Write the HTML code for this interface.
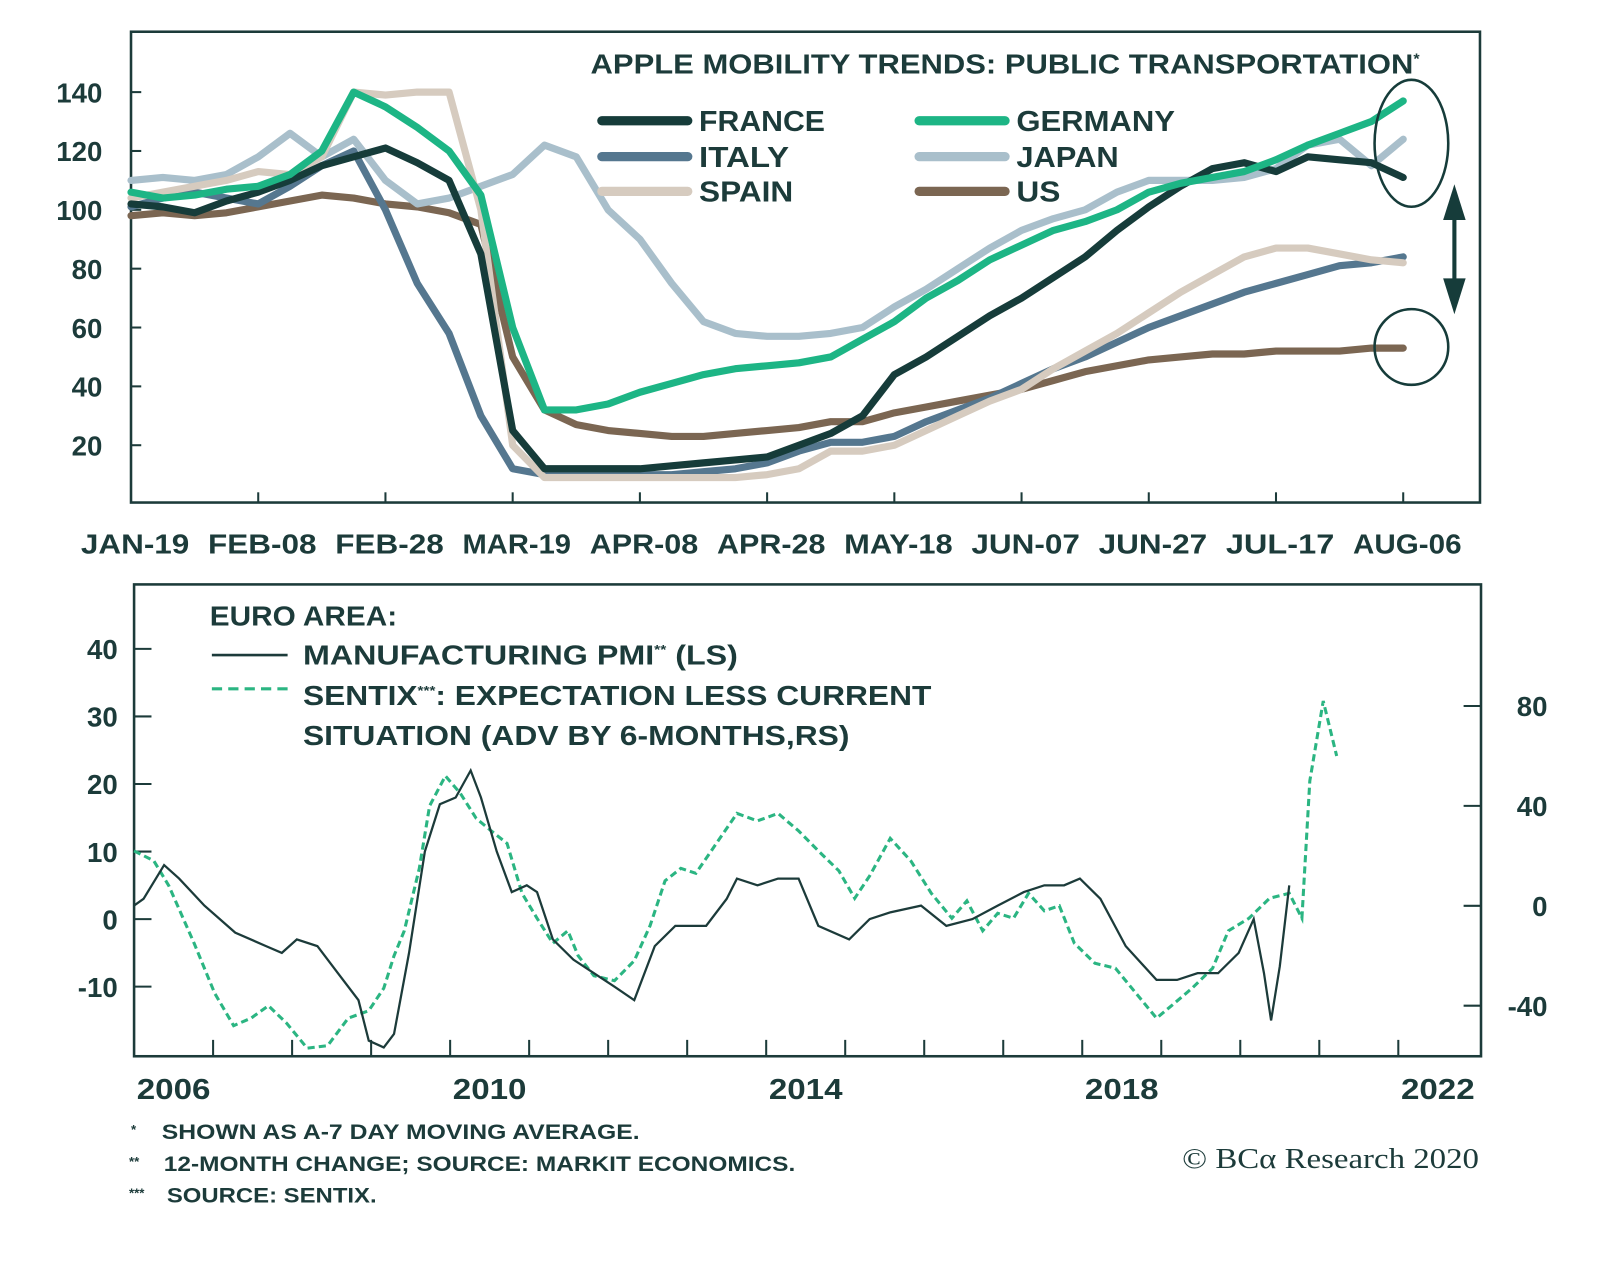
<!DOCTYPE html>
<html><head><meta charset="utf-8"><style>
html,body{margin:0;padding:0;background:#fff;}
svg{display:block;font-family:"Liberation Sans",sans-serif;font-weight:bold;}
</style></head><body>
<svg id="c" width="1600" height="1274" viewBox="0 0 1600 1274">
<g transform="scale(1.0235)">
<g id="top">
 <rect x="128" y="31" width="1318" height="460" fill="none" stroke="#1c3b3a" stroke-width="2.5"/>
 <text x="577" y="72" font-size="27" fill="#1c3b3a" textLength="810" lengthAdjust="spacingAndGlyphs">APPLE MOBILITY TRENDS: PUBLIC TRANSPORTATION<tspan font-size="14" dy="-10">*</tspan></text>
 <g id="topAxes"></g>
 <g id="topLines"></g>
 <g font-size="28" fill="#1c3b3a">
  <g><line x1="588" y1="118" x2="672" y2="118" stroke="#163c3a" stroke-width="9" stroke-linecap="round"/><text x="683" y="128" textLength="123" lengthAdjust="spacingAndGlyphs">FRANCE</text></g>
  <g><line x1="588" y1="153" x2="672" y2="153" stroke="#55778f" stroke-width="9" stroke-linecap="round"/><text x="683" y="163" textLength="88" lengthAdjust="spacingAndGlyphs">ITALY</text></g>
  <g><line x1="588" y1="187" x2="672" y2="187" stroke="#d6cbbf" stroke-width="9" stroke-linecap="round"/><text x="683" y="197" textLength="92" lengthAdjust="spacingAndGlyphs">SPAIN</text></g>
  <g><line x1="898" y1="118" x2="982" y2="118" stroke="#1db585" stroke-width="9" stroke-linecap="round"/><text x="993" y="128" textLength="155" lengthAdjust="spacingAndGlyphs">GERMANY</text></g>
  <g><line x1="898" y1="153" x2="982" y2="153" stroke="#a9bfcb" stroke-width="9" stroke-linecap="round"/><text x="993" y="163" textLength="100" lengthAdjust="spacingAndGlyphs">JAPAN</text></g>
  <g><line x1="898" y1="187" x2="982" y2="187" stroke="#7b6652" stroke-width="9" stroke-linecap="round"/><text x="993" y="197" textLength="43" lengthAdjust="spacingAndGlyphs">US</text></g>
 </g>
 <ellipse cx="1379" cy="140" rx="36" ry="62" fill="none" stroke="#163c3a" stroke-width="2.5"/>
 <ellipse cx="1379" cy="339" rx="36" ry="37" fill="none" stroke="#163c3a" stroke-width="2.5"/>
 <g>
  <line x1="1421" y1="195" x2="1421" y2="292" stroke="#163c3a" stroke-width="4"/>
  <polygon points="1421,180 1410,215 1432,215" fill="#163c3a"/>
  <polygon points="1421,307 1410,272 1432,272" fill="#163c3a"/>
 </g>
</g>
<g id="bot">
 <rect x="131" y="571" width="1316" height="461" fill="none" stroke="#1c3b3a" stroke-width="2.5"/>
 <g id="botAxes"></g>
 <g id="botLines"></g>
 <text x="205" y="611" font-size="27" fill="#1c3b3a" textLength="183" lengthAdjust="spacingAndGlyphs">EURO AREA:</text>
 <g><line x1="207" y1="640" x2="281" y2="640" stroke="#1c3b3a" stroke-width="2.5"/><text x="296" y="649" font-size="27" fill="#1c3b3a" textLength="425" lengthAdjust="spacingAndGlyphs">MANUFACTURING PMI<tspan font-size="13" dy="-10">**</tspan><tspan dy="10"> (LS)</tspan></text></g>
 <g><line x1="207" y1="673" x2="281" y2="673" stroke="#2bb582" stroke-width="3" stroke-dasharray="10,6"/><text x="296" y="689" font-size="27" fill="#1c3b3a" textLength="614" lengthAdjust="spacingAndGlyphs">SENTIX<tspan font-size="13" dy="-10">***</tspan><tspan dy="10">: EXPECTATION LESS CURRENT</tspan></text><text x="296" y="728" font-size="27" fill="#1c3b3a" textLength="534" lengthAdjust="spacingAndGlyphs">SITUATION (ADV BY 6-MONTHS,RS)</text></g>
</g>
<g font-size="21" fill="#1c3b3a">
 <text x="128" y="1108" font-size="13">*</text><text x="158" y="1113" textLength="467" lengthAdjust="spacingAndGlyphs">SHOWN AS A-7 DAY MOVING AVERAGE.</text>
 <text x="126" y="1139" font-size="13">**</text><text x="160" y="1144" textLength="617" lengthAdjust="spacingAndGlyphs">12-MONTH CHANGE; SOURCE: MARKIT ECONOMICS.</text>
 <text x="126" y="1170" font-size="13">***</text><text x="163" y="1175" textLength="205" lengthAdjust="spacingAndGlyphs">SOURCE: SENTIX.</text>
</g>
<text x="1155" y="1141" font-size="28" font-family="Liberation Serif,serif" font-weight="normal" fill="#1c3b3a" textLength="290" lengthAdjust="spacingAndGlyphs">© BCα Research 2020</text>
</g>
</svg>
<script>
// ---- Top chart data (days since Jan-19, 5-day steps) ----
const topDays=[0,5,10,15,20,25,30,35,40,45,50,55,60,65,70,75,80,85,90,95,100,105,110,115,120,125,130,135,140,145,150,155,160,165,170,175,180,185,190,195,200];
const topTickLabels=["JAN-19","FEB-08","FEB-28","MAR-19","APR-08","APR-28","MAY-18","JUN-07","JUN-27","JUL-17","AUG-06"];
const topYTicks=[20,40,60,80,100,120,140];
const france=[102,101,99,103,106,110,115,118,121,116,110,85,25,12,12,12,12,13,14,15,16,20,24,30,44,50,57,64,70,77,84,93,101,108,114,116,113,118,117,116,111];
const germany=[106,104,105,107,108,112,120,140,135,128,120,105,60,32,32,34,38,41,44,46,47,48,50,56,62,70,76,83,88,93,96,100,106,109,111,113,117,122,126,130,137];
const italy=[101,104,106,104,102,108,115,120,100,75,58,30,12,10,10,10,10,10,11,12,14,18,21,21,23,28,32,36,41,46,50,55,60,64,68,72,75,78,81,82,84];
const japan=[110,111,110,112,118,126,118,124,110,102,104,108,112,122,118,100,90,75,62,58,57,57,58,60,67,73,80,87,93,97,100,106,110,110,110,111,114,122,124,115,124];
const spain=[104,106,108,110,113,112,118,140,139,140,140,100,20,9,9,9,9,9,9,9,10,12,18,18,20,25,30,35,39,46,52,58,65,72,78,84,87,87,85,83,82];
const us=[98,99,98,99,101,103,105,104,102,101,99,95,50,32,27,25,24,23,23,24,25,26,28,28,31,33,35,37,39,42,45,47,49,50,51,51,52,52,52,53,53];
// ---- Bottom chart data ----
const pmiYears=[2006.00,2006.12,2006.38,2006.57,2006.89,2007.28,2007.67,2007.87,2008.06,2008.32,2008.58,2008.84,2008.97,2009.16,2009.29,2009.48,2009.68,2009.87,2010.07,2010.26,2010.39,2010.59,2010.78,2010.97,2011.10,2011.30,2011.56,2011.82,2012.08,2012.33,2012.59,2012.85,2013.24,2013.50,2013.63,2013.89,2014.15,2014.41,2014.66,2015.05,2015.31,2015.57,2015.96,2016.28,2016.61,2016.93,2017.26,2017.52,2017.77,2017.97,2018.23,2018.55,2018.94,2019.20,2019.46,2019.72,2019.98,2020.17,2020.30,2020.39,2020.50,2020.62];
const pmiValues=[2,3,8,6,2,-2,-4,-5,-3,-4,-8,-12,-18,-19,-17,-5,10,17,18,22,18,10,4,5,4,-3,-6,-8,-10,-12,-4,-1,-1,3,6,5,6,6,-1,-3,0,1,2,-1,0,2,4,5,5,6,3,-4,-9,-9,-8,-8,-5,0,-8,-15,-7,5];
const sentixYears=[2006.00,2006.25,2006.44,2006.76,2007.02,2007.26,2007.48,2007.70,2007.93,2008.19,2008.45,2008.71,2008.97,2009.16,2009.29,2009.42,2009.61,2009.74,2009.94,2010.13,2010.33,2010.52,2010.72,2010.91,2011.10,2011.30,2011.49,2011.62,2011.82,2012.08,2012.33,2012.53,2012.72,2012.92,2013.11,2013.37,2013.63,2013.89,2014.15,2014.41,2014.66,2014.92,2015.12,2015.31,2015.57,2015.83,2016.09,2016.35,2016.54,2016.74,2016.93,2017.13,2017.32,2017.52,2017.71,2017.90,2018.16,2018.42,2018.68,2018.94,2019.13,2019.39,2019.65,2019.85,2020.11,2020.37,2020.62,2020.78,2020.88,2021.05,2021.22];
const sentixValues=[22,18,8,-15,-35,-48,-45,-40,-47,-57,-56,-45,-42,-33,-20,-10,15,40,52,45,35,30,25,5,-5,-15,-10,-20,-28,-30,-22,-8,10,15,13,25,37,34,37,30,22,14,3,12,27,18,5,-5,2,-10,-3,-5,5,-2,0,-15,-23,-25,-35,-45,-40,-33,-25,-10,-5,3,5,-5,50,82,60];
const botYearLabels=[2006,2010,2014,2018,2022];
const leftTicks=[-10,0,10,20,30,40];
const rightTicks=[-40,0,40,80];

const NS="http://www.w3.org/2000/svg";
function mk(tag,attrs,parent){const e=document.createElementNS(NS,tag);for(const k in attrs)e.setAttribute(k,attrs[k]);parent.appendChild(e);return e;}
const ink="#1c3b3a";
const tx=d=>128+d*6.215, ty=v=>435-(v-20)*2.875;
const ta=document.getElementById('topAxes');
topYTicks.forEach(v=>{
  const t=mk('text',{x:100,y:ty(v)+10,'font-size':27,fill:ink,'text-anchor':'end'},ta);t.textContent=v;
  
  
  mk('line',{x1:128,x2:138,y1:ty(v),y2:ty(v),stroke:ink,'stroke-width':2},ta);
});
topTickLabels.forEach((s,i)=>{
  const x=tx(i*20);
  if(i>0)mk('line',{x1:x,x2:x,y1:491,y2:481,stroke:ink,'stroke-width':2},ta);
  const t=mk('text',{x:x+4,y:541,'font-size':27,fill:ink,'text-anchor':'middle',textLength:106,lengthAdjust:'spacingAndGlyphs'},ta);t.textContent=s;
  
  
});
const tl=document.getElementById('topLines');
[["us",us,"#7b6652"],["japan",japan,"#a9bfcb"],["italy",italy,"#55778f"],["spain",spain,"#d6cbbf"],["france",france,"#163c3a"],["germany",germany,"#1db585"]].forEach(([n,arr,c])=>{
  const p=mk('polyline',{points:arr.map((v,i)=>tx(topDays[i])+','+ty(v)).join(' '),fill:'none',stroke:c,'stroke-width':7,'stroke-linejoin':'round','stroke-linecap':'round'},tl);
  
  
});
const bx=y=>131+(y-2006)*77.2, byL=v=>898-v*6.6, byR=v=>885-v*2.44;
const ba=document.getElementById('botAxes');
leftTicks.forEach(v=>{
  const t=mk('text',{x:115,y:byL(v)+10,'font-size':27,fill:ink,'text-anchor':'end'},ba);t.textContent=v;
  
  
  mk('line',{x1:131,x2:148,y1:byL(v),y2:byL(v),stroke:ink,'stroke-width':2},ba);
});
rightTicks.forEach(v=>{
  const t=mk('text',{x:1512,y:byR(v)+10,'font-size':27,fill:ink,'text-anchor':'end'},ba);t.textContent=v;
  
  
  mk('line',{x1:1430,x2:1447,y1:byR(v),y2:byR(v),stroke:ink,'stroke-width':2},ba);
});
for(let y=2007;y<=2022;y++)mk('line',{x1:bx(y),x2:bx(y),y1:1032,y2:1016,stroke:ink,'stroke-width':2},ba);
botYearLabels.forEach(y=>{
  const t=mk('text',{x:bx(y+0.5),y:1074,'font-size':28,fill:ink,'text-anchor':'middle',textLength:72,lengthAdjust:'spacingAndGlyphs'},ba);t.textContent=y;
  
  
});
const bl=document.getElementById('botLines');
const sp=mk('polyline',{points:sentixYears.map((y,i)=>bx(y)+','+byR(sentixValues[i])).join(' '),fill:'none',stroke:'#2bb582','stroke-width':3,'stroke-dasharray':'7,4'},bl);


const pp=mk('polyline',{points:pmiYears.map((y,i)=>bx(y)+','+byL(pmiValues[i])).join(' '),fill:'none',stroke:'#1c3b3a','stroke-width':2.2},bl);


</script>
</body></html>
